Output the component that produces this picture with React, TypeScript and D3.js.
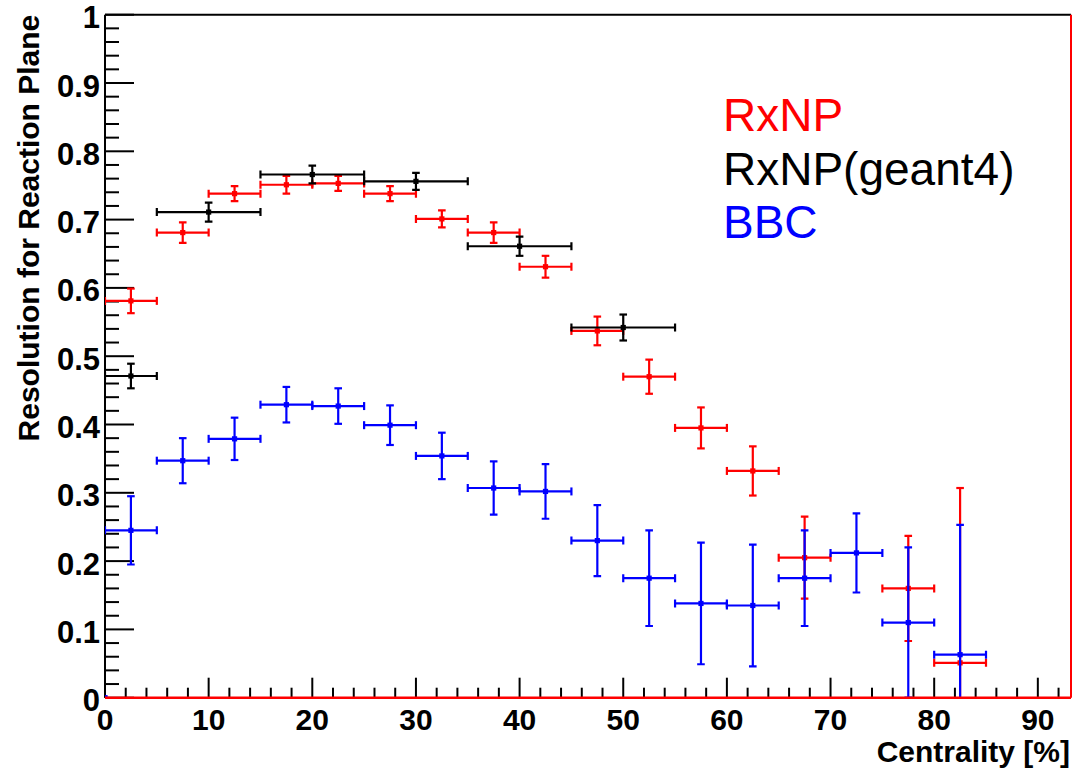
import React from "react";
import * as d3 from "d3";

const W = 1072;
const H = 769;

// RxNP (red)
const rxnpX = [2.5, 7.5, 12.5, 17.5, 22.5, 27.5, 32.5, 37.5, 42.5, 47.5, 52.5, 57.5, 62.5, 67.5, 77.5, 82.5];
const rxnpY = [0.581, 0.681, 0.738, 0.751, 0.753, 0.738, 0.701, 0.681, 0.631, 0.537, 0.470, 0.395, 0.332, 0.205, 0.160, 0.051];
const rxnpErr = [0.018, 0.015, 0.011, 0.013, 0.011, 0.011, 0.0125, 0.015, 0.016, 0.021, 0.025, 0.030, 0.036, 0.060, 0.077, 0.256];
const rxnpXErr = [2.5, 2.5, 2.5, 2.5, 2.5, 2.5, 2.5, 2.5, 2.5, 2.5, 2.5, 2.5, 2.5, 2.5, 2.5, 2.5];

// RxNP(geant4) (black)
const geantX = [2.5, 10, 20, 30, 40, 50];
const geantY = [0.471, 0.711, 0.766, 0.756, 0.661, 0.542];
const geantErr = [0.018, 0.014, 0.013, 0.0125, 0.014, 0.019];
const geantXErr = [2.5, 5, 5, 5, 5, 5];

// BBC (blue)
const bbcX = [0, 2.5, 7.5, 12.5, 17.5, 22.5, 27.5, 32.5, 37.5, 42.5, 47.5, 52.5, 57.5, 62.5, 67.5, 72.5, 77.5, 82.5];
const bbcY = [0, 0.245, 0.347, 0.379, 0.429, 0.427, 0.399, 0.354, 0.307, 0.302, 0.230, 0.175, 0.138, 0.135, 0.175, 0.212, 0.110, 0.063];
const bbcErr = [0, 0.05, 0.033, 0.031, 0.026, 0.026, 0.029, 0.034, 0.039, 0.040, 0.052, 0.070, 0.089, 0.089, 0.070, 0.058, 0.110, 0.190];
const bbcXErr = [0, 2.5, 2.5, 2.5, 2.5, 2.5, 2.5, 2.5, 2.5, 2.5, 2.5, 2.5, 2.5, 2.5, 2.5, 2.5, 2.5, 2.5];

const xMajor = [0, 10, 20, 30, 40, 50, 60, 70, 80, 90];
const yMajor = [0, 0.1, 0.2, 0.3, 0.4, 0.5, 0.6, 0.7, 0.8, 0.9, 1];
const yLabels = ["0", "0.1", "0.2", "0.3", "0.4", "0.5", "0.6", "0.7", "0.8", "0.9", "1"];

const legendNames = ["RxNP", "RxNP(geant4)", "BBC"];
const legendColors = ["#ff0000", "#000000", "#0000ff"];

const L = 105, R = 1071, T = 14.7, B = 697.7;

export default function App() {
  const x = d3.scaleLinear().domain([0, 93.2]).range([L, R]);
  const y = d3.scaleLinear().domain([0, 1]).range([B, T]);
  const xMinor = d3.range(0, 93, 2).filter((v) => v % 10 !== 0);
  const yMinor = d3.range(0, 1.0001, 0.02).filter((v) => Math.abs(v * 10 - Math.round(v * 10)) > 1e-6);

  const series = [
    { xs: rxnpX, ys: rxnpY, es: rxnpErr, xe: rxnpXErr, color: "#ff0000" },
    { xs: geantX, ys: geantY, es: geantErr, xe: geantXErr, color: "#000000" },
    { xs: bbcX, ys: bbcY, es: bbcErr, xe: bbcXErr, color: "#0000ff" },
  ];
  const font = "Liberation Sans, Arial, Helvetica, sans-serif";
  const capV = 3.8;
  const capH = 4;

  return (
    <svg width={W} height={H} style={{ position: "absolute", left: 0, top: 0, background: "#fff" }} fontFamily={font}>
      <defs>
        <clipPath id="plotclip">
          <rect x={L} y={T} width={R - L} height={B - T + 1} />
        </clipPath>
      </defs>
      <rect x={0} y={0} width={W} height={H} fill="#fff" />
      {/* frame */}
      <line x1={L} x2={R} y1={T} y2={T} stroke="#000" strokeWidth={2} />
      <line x1={L} x2={L} y1={T} y2={B} stroke="#000" strokeWidth={2} />
      {/* y ticks */}
      {yMajor.map((v, i) => (
        <line key={"ym" + i} x1={L} x2={L + 29} y1={y(v)} y2={y(v)} stroke="#000" strokeWidth={2} />
      ))}
      {yMinor.map((v, i) => (
        <line key={"yn" + i} x1={L} x2={L + 14} y1={y(v)} y2={y(v)} stroke="#000" strokeWidth={2} />
      ))}
      {/* x ticks */}
      {xMajor.map((v, i) => (
        <line key={"xm" + i} x1={x(v)} x2={x(v)} y1={B} y2={B - 20} stroke="#000" strokeWidth={2} />
      ))}
      {xMinor.map((v, i) => (
        <line key={"xn" + i} x1={x(v)} x2={x(v)} y1={B} y2={B - 10} stroke="#000" strokeWidth={2} />
      ))}
      {/* tick labels */}
      {yMajor.map((v, i) => (
        <text key={"yl" + i} x={100} y={y(v) + 13.5} textAnchor="end" fontSize={31} fontWeight="bold" fill="#000">
          {yLabels[i]}
        </text>
      ))}
      {xMajor.map((v, i) => (
        <text key={"xl" + i} x={x(v)} y={730} textAnchor="middle" fontSize={30} fontWeight="bold" fill="#000">
          {String(v)}
        </text>
      ))}
      {/* axis titles */}
      <text x={1070} y={762} textAnchor="end" fontSize={30} fontWeight="bold" fill="#000">
        Centrality [%]
      </text>
      <text transform={`translate(39, ${T}) rotate(-90)`} textAnchor="end" fontSize={30} fontWeight="bold" fill="#000">
        Resolution for Reaction Plane
      </text>
      {/* data */}
      <g clipPath="url(#plotclip)">
        {series.map((s, si) => (
          <g key={"s" + si} stroke={s.color} strokeWidth={2.2} fill={s.color}>
            {s.xs.map((xv, i) => {
              const cx = x(xv);
              const cy = y(s.ys[i]);
              const x0 = x(xv - s.xe[i]);
              const x1 = x(xv + s.xe[i]);
              const y0 = y(s.ys[i] - s.es[i]);
              const y1 = y(s.ys[i] + s.es[i]);
              return (
                <g key={i}>
                  {s.xe[i] > 0 && (
                    <>
                      <line x1={x0} x2={x1} y1={cy} y2={cy} />
                      <line x1={x0} x2={x0} y1={cy - capH} y2={cy + capH} />
                      <line x1={x1} x2={x1} y1={cy - capH} y2={cy + capH} />
                    </>
                  )}
                  {s.es[i] > 0 && (
                    <>
                      <line x1={cx} x2={cx} y1={y0} y2={y1} />
                      <line x1={cx - capV} x2={cx + capV} y1={y0} y2={y0} />
                      <line x1={cx - capV} x2={cx + capV} y1={y1} y2={y1} />
                    </>
                  )}
                  <rect x={cx - 2.6} y={cy - 2.6} width={5.2} height={5.2} stroke="none" />
                </g>
              );
            })}
          </g>
        ))}
      </g>
      {/* red histogram frame on bottom and right */}
      <line x1={L} x2={R} y1={B} y2={B} stroke="#ff0000" strokeWidth={2.6} />
      <line x1={R} x2={R} y1={T} y2={B} stroke="#ff0000" strokeWidth={2} />
      {/* legend */}
      {legendNames.map((n, i) => (
        <text key={"lg" + i} x={723} y={131 + i * 53.5} fontSize={46} fill={legendColors[i]}>
          {n}
        </text>
      ))}
    </svg>
  );
}
